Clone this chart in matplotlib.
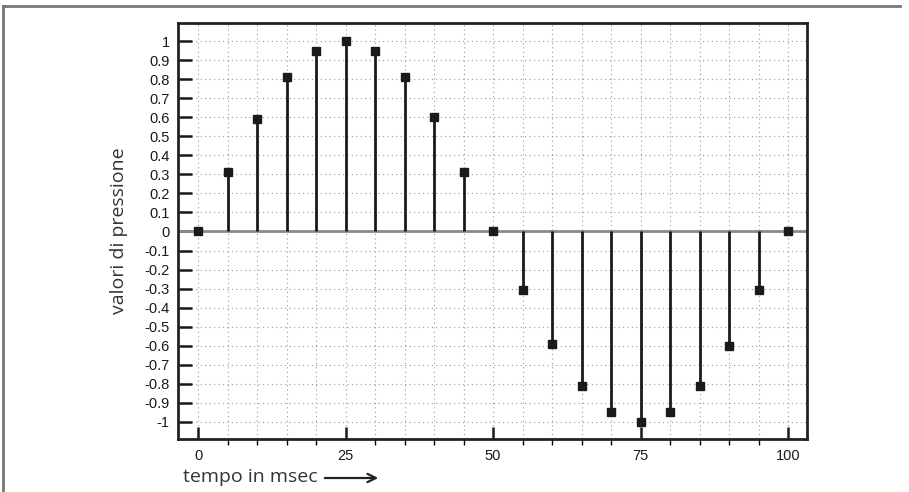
import matplotlib
matplotlib.use("Agg")
import matplotlib.pyplot as plt
from matplotlib.lines import Line2D
from matplotlib.patches import FancyArrowPatch
from matplotlib.ticker import MultipleLocator, FixedLocator

plt.rcParams['axes.unicode_minus'] = False

# campioni di pressione ogni 5 msec
tempo = [0, 5, 10, 15, 20, 25, 30, 35, 40, 45, 50,
         55, 60, 65, 70, 75, 80, 85, 90, 95, 100]
pressione = [0, 0.31, 0.59, 0.81, 0.95, 1.0, 0.95, 0.81, 0.60, 0.31, 0,
             -0.31, -0.59, -0.81, -0.95, -1.0, -0.95, -0.81, -0.60, -0.31, 0]
y_ticks = [round(-1 + 0.1 * i, 1) for i in range(21)]
x_ticks = [0, 25, 50, 75, 100]

W, H = 909, 492
fig = plt.figure(figsize=(W / 100, H / 100), dpi=100, facecolor='white')
ax = fig.add_axes([178 / W, 1 - 439 / H, (807 - 178) / W, (439 - 23) / H])

ax.set_xlim(-3.4, 103.2)
ax.set_ylim(-1.09, 1.095)

# grid
ax.xaxis.set_major_locator(FixedLocator(x_ticks))
ax.xaxis.set_minor_locator(MultipleLocator(5))
ax.yaxis.set_major_locator(FixedLocator(y_ticks))
ax.grid(True, which='both', axis='x', color='#999999', lw=0.8, ls=(0, (1, 3)))
ax.grid(True, which='major', axis='y', color='#999999', lw=0.8, ls=(0, (1, 3)))
ax.set_axisbelow(True)

ax.axhline(0, color='#8a8a8a', lw=2, zorder=2)
ax.vlines(tempo, 0, pressione, color='#1a1a1a', lw=2, zorder=3)
ax.plot(tempo, pressione, 's', color='#1a1a1a', ms=6, zorder=4)

ax.set_yticklabels([f"{v:g}" for v in y_ticks])
ax.set_xticklabels([str(v) for v in x_ticks])
ax.tick_params(axis='both', direction='in', colors='#1a1a1a', labelcolor='#1a1a1a',
               labelsize=10.5, labelfontfamily='Liberation Sans')
ax.tick_params(axis='y', which='major', length=10, width=1.8, pad=6)
ax.tick_params(axis='x', which='major', length=9, width=1.8, pad=7)
ax.tick_params(axis='x', which='minor', length=4, width=1.0)

for s in ax.spines.values():
    s.set_linewidth(2)
    s.set_color('#222222')

ax.set_ylabel('valori di pressione', fontsize=14, family='Open Sans', color='#333333',
              labelpad=12)

fig.text(183 / W, 1 - 477 / H, 'tempo in msec', fontsize=14, family='Open Sans',
         color='#333333', va='center', ha='left')
fig.add_artist(FancyArrowPatch(
    (322 / W, 1 - 478 / H), (381 / W, 1 - 478 / H), transform=fig.transFigure,
    arrowstyle='->,head_length=6,head_width=3', lw=1.6, color='#222222'))

# bordo pagina
fig.add_artist(Line2D([3 / W, 900 / W], [1 - 6 / H, 1 - 6 / H], transform=fig.transFigure,
                      color='#777777', lw=2))
fig.add_artist(Line2D([3 / W, 3 / W], [0, 1 - 6 / H], transform=fig.transFigure,
                      color='#777777', lw=2))

fig.savefig('out.png', dpi=100)
